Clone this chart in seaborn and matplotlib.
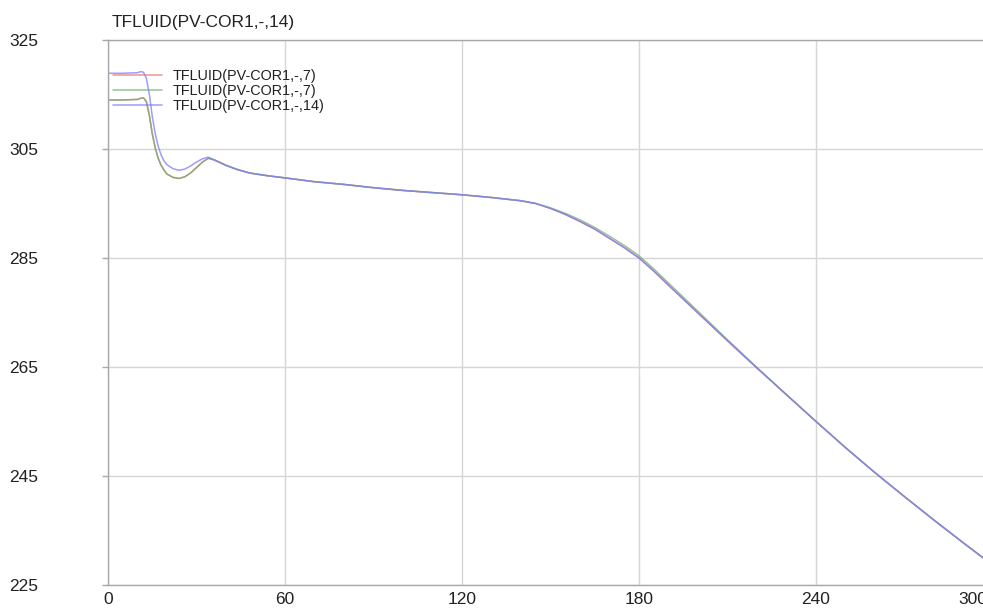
import seaborn as sns
import pandas as pd
import matplotlib
matplotlib.use("Agg")
import matplotlib.pyplot as plt
import matplotlib.transforms as mtrans

# time (s) and fluid temperature
time = [0, 5, 10, 11, 12, 13, 14, 15, 16, 17, 18, 19, 20, 22, 24, 26, 28, 30,
        32, 34, 36, 40, 44, 48, 54, 60, 70, 80, 90, 100, 110, 120, 130, 140,
        145, 150, 155, 160, 165, 170, 175, 180, 185, 190, 200, 210, 220, 230,
        240, 250, 260, 270, 280, 290, 300]

tfluid_14 = [318.9, 318.9, 319.0, 319.2, 319.1, 318.0, 315.0, 311.0, 307.8,
             305.5, 303.9, 302.8, 302.1, 301.4, 301.1, 301.3, 301.9, 302.6,
             303.2, 303.5, 303.0, 302.0, 301.2, 300.6, 300.1, 299.7, 299.0,
             298.5, 297.9, 297.4, 297.0, 296.6, 296.1, 295.5, 295.0, 294.1,
             293.0, 291.7, 290.3, 288.6, 286.9, 285.0, 282.6, 280.0, 274.9,
             269.8, 264.8, 259.9, 255.0, 250.2, 245.6, 241.2, 236.9, 232.7,
             228.6]

tfluid_7a = [314.0, 314.0, 314.1, 314.3, 314.4, 313.7, 311.2, 307.8, 305.2,
             303.3, 302.0, 301.1, 300.4, 299.8, 299.6, 299.9, 300.6, 301.6,
             302.6, 303.3, 303.0, 302.0, 301.2, 300.6, 300.1, 299.7, 299.0,
             298.5, 297.9, 297.4, 297.0, 296.6, 296.1, 295.5, 295.0, 294.1,
             293.0, 291.7, 290.3, 288.6, 286.9, 285.0, 282.6, 280.0, 274.9,
             269.8, 264.8, 259.9, 255.0, 250.2, 245.6, 241.2, 236.9, 232.7,
             228.6]

tfluid_7b = [314.0, 314.0, 314.1, 314.3, 314.4, 313.7, 311.2, 307.8, 305.2,
             303.3, 302.0, 301.1, 300.4, 299.8, 299.6, 299.9, 300.6, 301.6,
             302.6, 303.3, 303.0, 302.0, 301.2, 300.6, 300.1, 299.7, 299.0,
             298.5, 297.9, 297.4, 297.0, 296.6, 296.1, 295.5, 295.0, 294.2,
             293.2, 292.0, 290.6, 289.0, 287.3, 285.4, 283.0, 280.4, 275.2,
             270.0, 264.9, 259.9, 255.0, 250.2, 245.6, 241.2, 236.9, 232.7,
             228.6]

labels = ["TFLUID(PV-COR1,-,7)", "TFLUID(PV-COR1,-,7)", "TFLUID(PV-COR1,-,14)"]
title = "TFLUID(PV-COR1,-,14)"
xticks = [0, 60, 120, 180, 240, 300]
yticks = [225, 245, 265, 285, 305, 325]

sns.set_theme(style="whitegrid")
plt.rcParams["font.family"] = ["Liberation Sans", "DejaVu Sans"]

fig = plt.figure(figsize=(9.83, 6.11), dpi=100)
ax = fig.add_axes([0.1099, 0.0426, 0.9003, 0.8919])

colors = ["#e87070", "#70b070", "#7c7cff"]
series = [tfluid_7a, tfluid_7b, tfluid_14]
for vals, lab, col in zip(series, labels, colors):
    df = pd.DataFrame({"t": time, "T": vals})
    sns.lineplot(data=df, x="t", y="T", ax=ax, color=col, lw=1.1, alpha=0.75,
                 label=lab)

ax.set_xlim(0, 300)
ax.set_ylim(225, 325)
ax.set_xticks(xticks)
ax.set_yticks(yticks)
ax.set_xlabel("")
ax.set_ylabel("")
ax.grid(True, color="#d6d6d6", lw=1)
for side in ["top", "left", "bottom", "right"]:
    ax.spines[side].set_color("#a8a8a8")
    ax.spines[side].set_linewidth(1)
ax.tick_params(axis="y", length=4, width=1, color="#a8a8a8", pad=46,
               labelsize=12.5, labelcolor="#222222", left=True)
ax.tick_params(axis="x", length=0, pad=5, labelsize=12.5, labelcolor="#222222")
# the last x label sits left of its tick, as in the original
last = ax.get_xticklabels()[-1]
last.set_horizontalalignment("right")
last.set_transform(last.get_transform() +
                   mtrans.ScaledTranslation(-0.06, 0, fig.dpi_scale_trans))

leg = ax.legend(loc="upper left", bbox_to_anchor=(0.0056, 0.946), frameon=False,
                fontsize=10.4, handlelength=3.4, handletextpad=0.7,
                labelspacing=0.05, borderpad=0, borderaxespad=0)
for txt in leg.get_texts():
    txt.set_color("#222222")

fig.text(112 / 983, 1 - 23 / 611, title, fontsize=12.5, color="#222222",
         va="center", ha="left")

fig.savefig("out.png", dpi=100)
